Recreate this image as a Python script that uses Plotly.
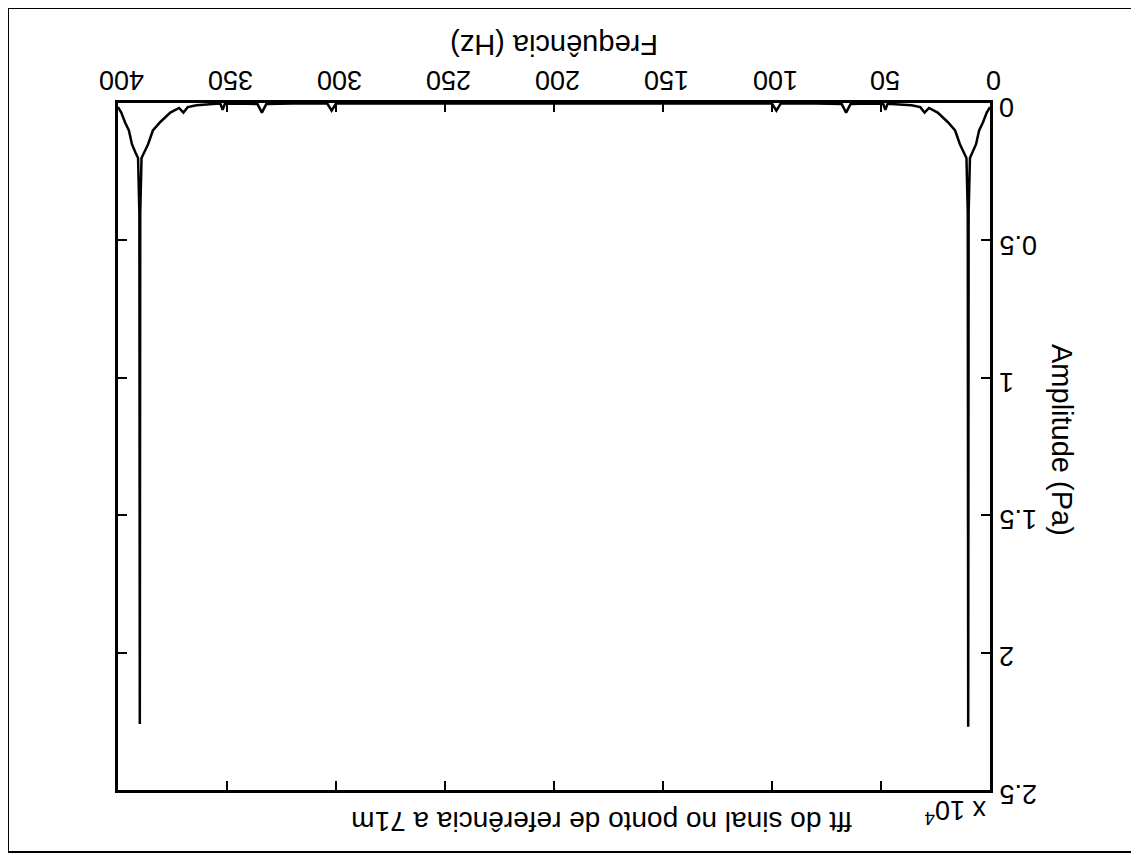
import plotly.graph_objects as go

# Frequency (Hz) and FFT amplitude (Pa)
freq_hz = [0, 1.5, 3.2, 5, 6.4, 8, 9.2, 9.8, 10, 10.2, 10.8, 12, 13.8, 16, 19.3, 24,
           28, 30, 32, 36, 45, 47, 48, 49, 55, 64, 66, 68, 80, 96, 98, 100, 130, 160,
           200, 240, 270, 300, 302, 304, 320, 332, 334, 336, 345, 351, 352, 353, 355,
           364, 368, 370, 372, 376, 380.7, 384, 386.2, 388, 389.2, 389.8, 390, 390.2,
           390.8, 392, 393.6, 395, 396.8, 398.5, 400]
amplitude_pa = [150, 350, 700, 1000, 1500, 1800, 2000, 4000, 22700, 4000, 2000, 1800, 1500, 1000, 700, 350,
                180, 350, 150, 80, 30, 30, 250, 30, 20, 40, 350, 40, 20, 20, 280, 20, 15, 15,
                15, 15, 15, 20, 280, 20, 20, 40, 350, 40, 20, 30, 250, 30, 30,
                80, 150, 350, 180, 350, 700, 1000, 1500, 1800, 2000, 4000, 22600, 4000,
                2000, 1800, 1500, 1000, 700, 350, 150]

x_ticks = [0, 50, 100, 150, 200, 250, 300, 350, 400]
x_tick_text = ["0", "50", "100", "150", "200", "250", "300", "350", "400"]
y_ticks = [0, 5000, 10000, 15000, 20000, 25000]
y_tick_text = ["0", "0.5", "1", "1.5", "2", "2.5"]

title_text = "fft do sinal no ponto de referência a 71m"
x_title = "Frequência (Hz)"
y_title = "Amplitude (Pa)"
exp_text = "x 10<sup>4</sup>"

FONT = "Liberation Sans, Arial, sans-serif"

# page offset of the html body
OFF = 8
W, H = 1139 - OFF, 855 - OFF
L, T = 118 - OFF, 103 - OFF
R = W - (990 - OFF)
B = H - (790 - OFF)
pw, ph = W - L - R, H - T - B


def px(xpix):
    return (xpix - OFF - L) / pw


def py(ypix):
    return (T + ph - (ypix - OFF)) / ph


fig = go.Figure()
fig.add_trace(go.Scatter(x=freq_hz, y=amplitude_pa, mode="lines",
                         line=dict(color="black", width=2.5), showlegend=False))

annotations = [
    dict(text=x_title, xref="paper", yref="paper", x=px(554), y=py(45),
         xanchor="center", yanchor="middle", showarrow=False, textangle=180,
         font=dict(size=29)),
    dict(text=title_text, xref="paper", yref="paper", x=px(602), y=py(822),
         xanchor="center", yanchor="middle", showarrow=False, textangle=180,
         font=dict(size=28)),
    dict(text=y_title, xref="paper", yref="paper", x=px(1062), y=py(440),
         xanchor="center", yanchor="middle", showarrow=False, textangle=90,
         font=dict(size=29)),
    dict(text=exp_text, xref="paper", yref="paper", x=px(955), y=py(812),
         xanchor="center", yanchor="middle", showarrow=False, textangle=180,
         font=dict(size=27)),
]
for v, t in zip(x_ticks, x_tick_text):
    annotations.append(dict(text=t, xref="x", yref="paper", x=v, y=py(80),
                            xanchor="center", yanchor="middle", xshift=4,
                            showarrow=False, textangle=180, font=dict(size=27)))
for v, t in zip(y_ticks, y_tick_text):
    annotations.append(dict(text=t, xref="paper", yref="y", x=px(997), y=v,
                            xanchor="left", yanchor="middle", yshift=-4,
                            showarrow=False, textangle=180, font=dict(size=27)))

fig.update_layout(
    width=W, height=H,
    margin=dict(l=L, r=R, t=T, b=B),
    paper_bgcolor="white", plot_bgcolor="white",
    font=dict(family=FONT, size=27, color="black"),
    xaxis=dict(range=[400, 0], side="top", tickvals=x_ticks, ticks="inside",
               ticklen=9, tickwidth=2, tickcolor="black", showticklabels=False,
               showline=True, linecolor="black", linewidth=3, mirror="ticks",
               showgrid=False, zeroline=False),
    yaxis=dict(range=[25000, 0], side="right", tickvals=y_ticks,
               ticks="inside", ticklen=9, tickwidth=2, tickcolor="black",
               showticklabels=False,
               showline=True, linecolor="black", linewidth=3, mirror="ticks",
               showgrid=False, zeroline=False),
    annotations=annotations,
    shapes=[
        dict(type="rect", xref="paper", yref="paper",
             x0=px(8), x1=px(1134), y0=py(852), y1=py(8),
             line=dict(color="black", width=2)),
    ],
)

fig.write_html("out.html")
